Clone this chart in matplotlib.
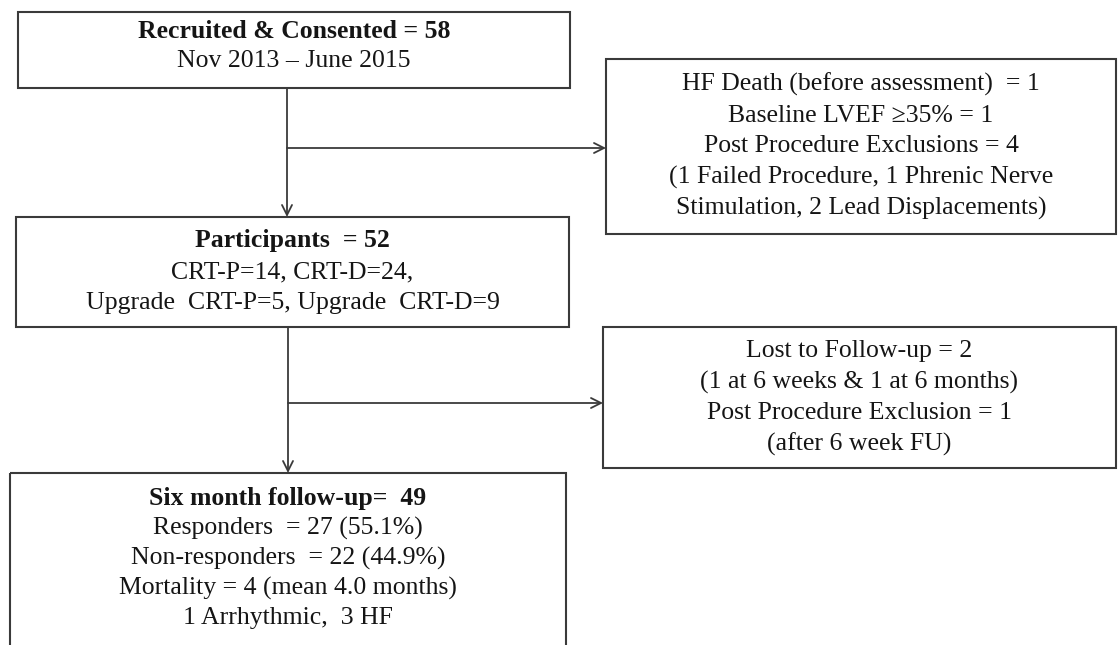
import matplotlib.pyplot as plt
from matplotlib.patches import Rectangle

plt.rcParams['font.family'] = ['Liberation Serif', 'DejaVu Serif']

# flowchart text
recruited_title = "Recruited & Consented = 58"
recruited_lines = ["Nov 2013 \u2013 June 2015"]
excluded_lines = ["HF Death (before assessment)  = 1",
                  "Baseline LVEF \u226535% = 1",
                  "Post Procedure Exclusions = 4",
                  "(1 Failed Procedure, 1 Phrenic Nerve",
                  "Stimulation, 2 Lead Displacements)"]
participants_title = "Participants  = 52"
participants_lines = ["CRT-P=14, CRT-D=24,",
                      "Upgrade  CRT-P=5, Upgrade  CRT-D=9"]
lost_lines = ["Lost to Follow-up = 2",
              "(1 at 6 weeks & 1 at 6 months)",
              "Post Procedure Exclusion = 1",
              "(after 6 week FU)"]
followup_title = "Six month follow-up=  49"
followup_lines = ["Responders  = 27 (55.1%)",
                  "Non-responders  = 22 (44.9%)",
                  "Mortality = 4 (mean 4.0 months)",
                  "1 Arrhythmic,  3 HF"]

W, H = 1118, 645
fig = plt.figure(figsize=(W / 100, H / 100), dpi=100)
ax = fig.add_axes([0, 0, 1, 1])
ax.set_xlim(0, W)
ax.set_ylim(H, 0)
ax.axis('off')

edge = '#3a3a3a'
fs = 18.5


def box(x0, y0, x1, y1, lines, title=None, y_first=None, lh=31):
    ax.add_patch(Rectangle((x0, y0), x1 - x0, y1 - y0, fill=False,
                           edgecolor=edge, linewidth=1.5))
    xc = (x0 + x1) / 2
    items = ([(title, 'bold')] if title else []) + [(t, 'normal') for t in lines]
    if y_first is None:
        y_first = (y0 + y1) / 2 - (len(items) - 1) * lh / 2
    for i, (t, w) in enumerate(items):
        ax.text(xc, y_first + i * lh, t, ha='center', va='center',
                fontsize=fs, fontweight=w, color='#151515')


def arrow(x0, y0, x1, y1):
    ax.annotate('', xy=(x1, y1), xytext=(x0, y0),
                arrowprops=dict(arrowstyle='->', color=edge, lw=1.3,
                                shrinkA=0, shrinkB=0, mutation_scale=18))


box(18, 12, 570, 88, recruited_lines, recruited_title, y_first=31, lh=30)
box(606, 59, 1116, 234, excluded_lines)
box(16, 217, 569, 327, participants_lines, participants_title)
box(603, 327, 1116, 468, lost_lines)
box(10, 473, 566, 660, followup_lines, followup_title, y_first=498, lh=30)

arrow(287, 88, 287, 217)
arrow(287, 148, 606, 148)
arrow(288, 327, 288, 473)
arrow(288, 403, 603, 403)

fig.savefig('out.png', dpi=100)
